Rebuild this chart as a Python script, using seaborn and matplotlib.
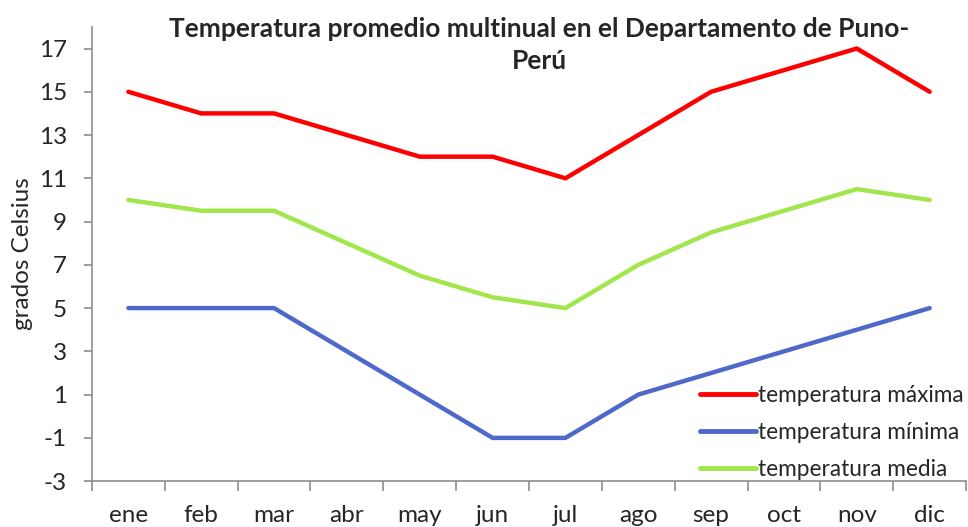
import pandas as pd
import numpy as np
import matplotlib
matplotlib.use("Agg")
import matplotlib.pyplot as plt
import seaborn as sns

meses = ["ene", "feb", "mar", "abr", "may", "jun", "jul", "ago", "sep", "oct", "nov", "dic"]
t_max = [15, 14, 14, 13, 12, 12, 11, 13, 15, 16, 17, 15]
t_min = [5, 5, 5, 3, 1, -1, -1, 1, 2, 3, 4, 5]
t_media = [10, 9.5, 9.5, 8, 6.5, 5.5, 5, 7, 8.5, 9.5, 10.5, 10]
series = ["temperatura máxima", "temperatura mínima", "temperatura media"]
colores = ["#FF0000", "#4F69CA", "#A2E64D"]

df = pd.DataFrame({
    "mes": meses * 3,
    "x": list(range(12)) * 3,
    "valor": t_max + t_min + t_media,
    "serie": [series[0]] * 12 + [series[1]] * 12 + [series[2]] * 12,
})

sns.set_style("white")
plt.rcParams["font.family"] = ["Lato", "DejaVu Sans"]
plt.rcParams["axes.unicode_minus"] = False

fig = plt.figure(figsize=(9.68, 5.27), dpi=100)
ax = fig.add_axes([0.095, 0.087, 0.903, 0.862])
sns.lineplot(data=df, x="x", y="valor", hue="serie", hue_order=series,
             palette=colores, linewidth=3.2, sort=False, ax=ax)

ax.set_xlim(-0.5, 11.5)
ax.set_ylim(-3, 18)
ax.set_yticks(np.arange(-3, 18, 2))
ax.set_xticks(range(12))
ax.set_xticklabels(meses)
ax.set_xticks(np.arange(-0.5, 12, 1), minor=True)
ax.tick_params(axis="x", which="major", length=0, labelsize=17.5, pad=17)
ax.tick_params(axis="x", which="minor", length=7, width=1.2, color="#8c8c8c", direction="out", bottom=True)
ax.tick_params(axis="y", length=6, width=1.2, color="#8c8c8c", labelsize=17.5, pad=12, left=True)
for s in ["top", "right"]:
    ax.spines[s].set_visible(False)
for s in ["left", "bottom"]:
    ax.spines[s].set_color("#8c8c8c")
    ax.spines[s].set_linewidth(1.2)

ax.set_xlabel("")
ax.set_ylabel("grados Celsius", fontsize=17.5, labelpad=4)

fig.text(0.557, 0.968, "Temperatura promedio multinual en el Departamento de Puno-\nPerú",
         ha="center", va="top", fontsize=19, fontweight="bold", linespacing=1.4)

leg = ax.legend(loc="lower right", frameon=False, fontsize=16.3, handlelength=2.5,
                handletextpad=0.1, labelspacing=0.72, borderaxespad=0.0,
                bbox_to_anchor=(1.008, -0.018))
for ln in leg.get_lines():
    ln.set_linewidth(3.5)

fig.savefig("out.png", dpi=100)
